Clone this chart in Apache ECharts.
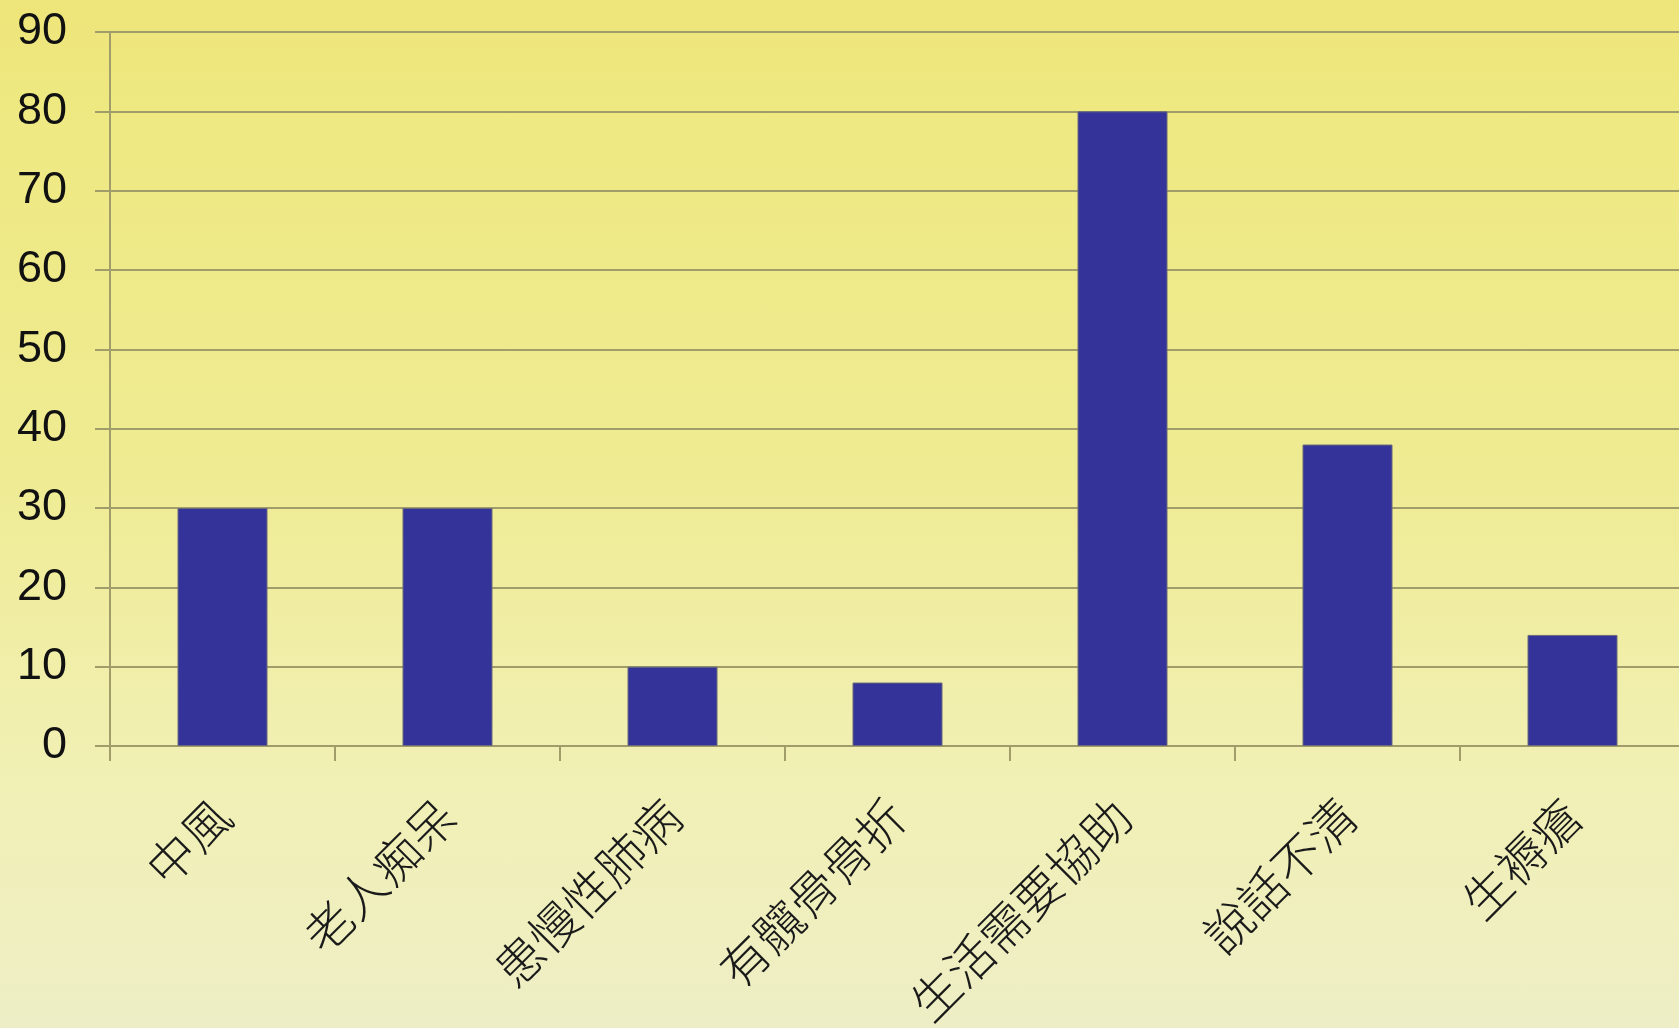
<!DOCTYPE html>
<html>
<head>
<meta charset="utf-8">
<script src="https://cdn.jsdelivr.net/npm/echarts@6/dist/echarts.min.js"></script>
<style>
html,body{margin:0;padding:0;width:1679px;height:1028px;overflow:hidden;}
#chart{width:1679px;height:1028px;background:linear-gradient(to bottom,#eee57a 0%,#eee982 12%,#efeb92 45%,#f1f0b4 75%,#eeeec6 100%);}
</style>
</head>
<body>
<div id="chart"></div>
<script>
var categories = ['中風','老人痴呆','患慢性肺病','有髖骨骨折','生活需要協助','說話不清','生褥瘡'];
var values = [30, 30, 10, 8, 80, 38, 14];
var yTicks = {min: 0, max: 90, interval: 10};

var chart = echarts.init(document.getElementById('chart'), null, {renderer: 'canvas'});
var lineColor = '#a09d6a';
chart.setOption({
  backgroundColor: 'transparent',
  animation: false,
  grid: {left: 110, top: 32, width: 1575, bottom: 282, containLabel: false, outerBoundsMode: 'none'},
  xAxis: {
    type: 'category',
    data: categories,
    boundaryGap: true,
    axisLine: {show: true, lineStyle: {color: lineColor, width: 2}},
    axisTick: {show: true, length: 15, alignWithLabel: false, lineStyle: {color: lineColor, width: 2}},
    axisLabel: {
      rotate: 45, margin: 62, interval: 0,
      fontSize: 48, fontFamily: 'Noto Sans CJK TC', fontWeight: 300, color: '#1a1a1a'
    },
    splitLine: {show: false}
  },
  yAxis: {
    type: 'value',
    min: yTicks.min, max: yTicks.max, interval: yTicks.interval,
    axisLine: {show: true, lineStyle: {color: lineColor, width: 2}},
    axisTick: {show: true, length: 15, lineStyle: {color: lineColor, width: 2}},
    axisLabel: {margin: 43, fontSize: 45, fontFamily: 'Liberation Sans', color: '#111'},
    splitLine: {show: true, lineStyle: {color: lineColor, width: 2}}
  },
  series: [{
    type: 'bar',
    data: values,
    barWidth: '40%',
    itemStyle: {color: '#333399', borderColor: '#6a6a7a', borderWidth: 1}
  }]
});
</script>
</body>
</html>
